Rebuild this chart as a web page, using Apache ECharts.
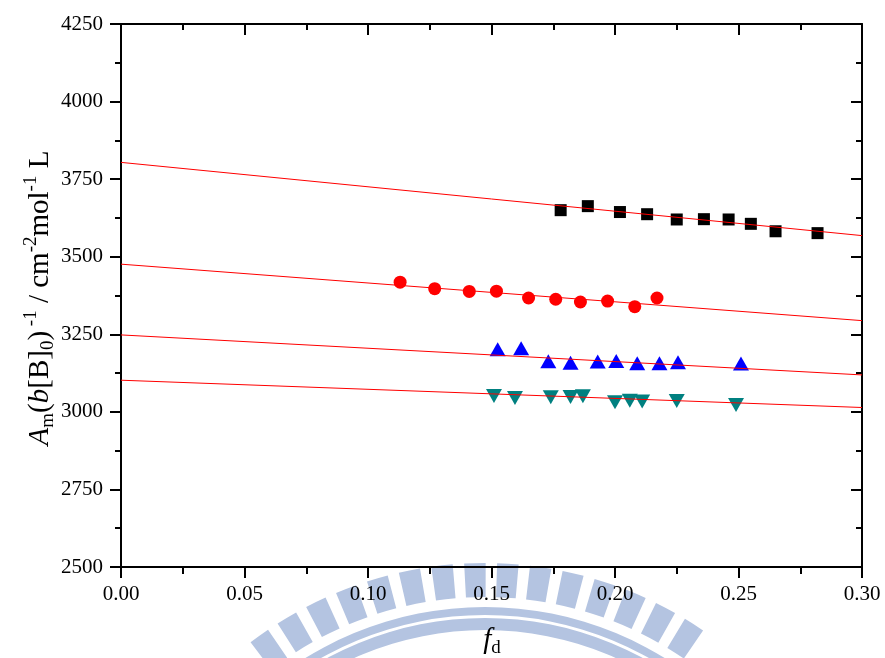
<!DOCTYPE html>
<html>
<head>
<meta charset="utf-8">
<script src="https://cdn.jsdelivr.net/npm/echarts@6/dist/echarts.min.js"></script>
<style>
  html, body { margin: 0; padding: 0; background: #fff; }
  #main { width: 885px; height: 658px; }
</style>
</head>
<body>
<div id="main"></div>
<script>
// data
var fdSquare = [0.178, 0.189, 0.202, 0.213, 0.225, 0.236, 0.246, 0.255, 0.265, 0.282];
var amSquare = [3650, 3663, 3644, 3637, 3620, 3621, 3620, 3606, 3582, 3576];
var fdCircle = [0.113, 0.127, 0.141, 0.152, 0.165, 0.176, 0.186, 0.197, 0.208, 0.217];
var amCircle = [3418, 3397, 3388, 3389, 3367, 3363, 3354, 3357, 3339, 3367];
var fdUp = [0.1525, 0.162, 0.173, 0.182, 0.193, 0.2005, 0.209, 0.218, 0.2255, 0.251];
var amUp = [3202, 3205, 3163, 3158, 3162, 3164, 3157, 3157, 3160, 3156];
var fdDown = [0.151, 0.1595, 0.174, 0.182, 0.187, 0.200, 0.206, 0.211, 0.225, 0.249];
var amDown = [3051, 3045, 3047, 3048, 3050, 3031, 3036, 3033, 3035, 3022];
// fitted lines, value at fd = 0 and fd = 0.30
var fitX = [0, 0.30];
var fitSquare = [3804, 3568];
var fitCircle = [3476, 3294];
var fitUp = [3248, 3119];
var fitDown = [3102, 3014];

var serif = '"Liberation Serif", "Times New Roman", serif';

function pairs(xs, ys) {
    return xs.map(function (x, i) { return [x, ys[i]]; });
}

/* watermark logo behind the chart */
var wmColor = '#b4c4e1';
var wmCx = 485, wmCy = 949;
var deco = [];
var pitch = 4.9 * Math.PI / 180;
var offset = -1.5 * Math.PI / 180;
var half = 1.6 * Math.PI / 180;
for (var k = -7; k <= 7; k++) {
    var a = -Math.PI / 2 + offset + k * pitch;
    deco.push({
        type: 'sector', silent: true, z: -10,
        shape: { cx: wmCx, cy: wmCy, r: 386, r0: 352, startAngle: a - half, endAngle: a + half },
        style: { fill: wmColor }
    });
}
deco.push({ type: 'ring', silent: true, z: -10, shape: { cx: wmCx, cy: wmCy, r: 342, r0: 334 }, style: { fill: wmColor } });
deco.push({ type: 'ring', silent: true, z: -10, shape: { cx: wmCx, cy: wmCy, r: 331, r0: 319 }, style: { fill: wmColor } });

var richTitle = {
    n: { fontSize: 29, fontFamily: serif, lineHeight: 36, color: '#000' },
    i: { fontSize: 29, fontFamily: serif, fontStyle: 'italic', lineHeight: 36, color: '#000' },
    s: { fontSize: 19, fontFamily: serif, verticalAlign: 'bottom', color: '#000' },
    p: { fontSize: 19, fontFamily: serif, verticalAlign: 'top', color: '#000' }
};

deco.push({
    type: 'text', z: 50, x: 40, y: 298, rotation: Math.PI / 2,
    style: {
        text: '{i|A}{s|m}{n|(}{i|b}{n|[B]}{s|0}{n|)}{p| -1}{n| / cm}{p|-2}{n|mol}{p|-1}{n| L}',
        rich: richTitle, fontSize: 29, fontFamily: serif,
        align: 'center', verticalAlign: 'middle', textAlign: 'center', textVerticalAlign: 'middle'
    }
});
deco.push({
    type: 'text', z: 50, x: 492, y: 640,
    style: {
        text: '{i|f}{s|d}',
        rich: richTitle, fontSize: 29, fontFamily: serif,
        align: 'center', verticalAlign: 'middle', textAlign: 'center', textVerticalAlign: 'middle'
    }
});

var axisLine = { show: true, onZero: false, lineStyle: { color: '#000', width: 2 } };
var labelStyle = { color: '#000', fontSize: 21, fontFamily: serif };

var myChart = echarts.init(document.getElementById('main'));
var option = {
    backgroundColor: '#fff',
    animation: false,
    grid: { left: 121, right: 23, top: 24, bottom: 91, containLabel: false },
    graphic: { elements: deco },
    xAxis: [{
        type: 'value', position: 'bottom', min: 0, max: 0.3, interval: 0.05,
        axisLine: axisLine,
        axisTick: { show: true, inside: false, length: 11, lineStyle: { color: '#000', width: 2 } },
        minorTick: { show: true, splitNumber: 2, length: 7, lineStyle: { color: '#000', width: 2 } },
        axisLabel: Object.assign({ margin: 17, formatter: function (v) { return v.toFixed(2); } }, labelStyle),
        splitLine: { show: false }
    }, {
        type: 'value', position: 'top', min: 0, max: 0.3, interval: 0.05,
        axisLine: axisLine,
        axisTick: { show: true, inside: true, length: 11, lineStyle: { color: '#000', width: 2 } },
        minorTick: { show: true, splitNumber: 2, length: 6, lineStyle: { color: '#000', width: 2 } },
        axisLabel: { show: false },
        splitLine: { show: false }
    }],
    yAxis: [{
        type: 'value', position: 'left', min: 2500, max: 4250, interval: 250,
        axisLine: axisLine,
        axisTick: { show: true, inside: false, length: 11, lineStyle: { color: '#000', width: 2 } },
        minorTick: { show: true, splitNumber: 2, length: 6, lineStyle: { color: '#000', width: 2 } },
        axisLabel: Object.assign({ margin: 18, formatter: function (v) { return String(v); } }, labelStyle),
        splitLine: { show: false }
    }, {
        type: 'value', position: 'right', min: 2500, max: 4250, interval: 250,
        axisLine: axisLine,
        axisTick: { show: true, inside: true, length: 11, lineStyle: { color: '#000', width: 2 } },
        minorTick: { show: true, splitNumber: 2, length: 6, lineStyle: { color: '#000', width: 2 } },
        axisLabel: { show: false },
        splitLine: { show: false }
    }],
    series: [
        { type: 'scatter', symbol: 'rect', symbolSize: 12, itemStyle: { color: '#000', opacity: 1 }, data: pairs(fdSquare, amSquare), z: 3 },
        { type: 'scatter', symbol: 'circle', symbolSize: 13, itemStyle: { color: '#ff0000', opacity: 1 }, data: pairs(fdCircle, amCircle), z: 3 },
        { type: 'scatter', symbol: 'triangle', symbolSize: [16, 14], itemStyle: { color: '#0000ff', opacity: 1 }, data: pairs(fdUp, amUp), z: 3 },
        { type: 'scatter', symbol: 'triangle', symbolRotate: 180, symbolSize: [16, 14], itemStyle: { color: '#008080', opacity: 1 }, data: pairs(fdDown, amDown), z: 3 },
        { type: 'line', showSymbol: false, lineStyle: { color: '#ff0000', width: 1 }, data: pairs(fitX, fitSquare), z: 5 },
        { type: 'line', showSymbol: false, lineStyle: { color: '#ff0000', width: 1 }, data: pairs(fitX, fitCircle), z: 5 },
        { type: 'line', showSymbol: false, lineStyle: { color: '#ff0000', width: 1 }, data: pairs(fitX, fitUp), z: 5 },
        { type: 'line', showSymbol: false, lineStyle: { color: '#ff0000', width: 1 }, data: pairs(fitX, fitDown), z: 5 }
    ]
};
myChart.setOption(option);
</script>
</body>
</html>
